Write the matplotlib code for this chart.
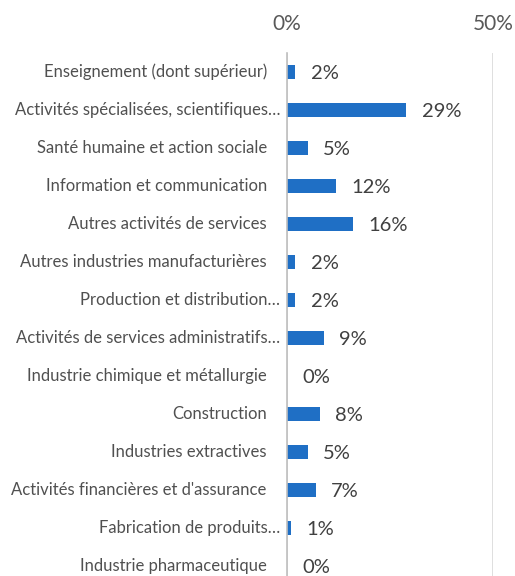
import matplotlib
matplotlib.use("Agg")
import matplotlib.pyplot as plt

categories = [
    "Enseignement (dont supérieur)",
    "Activités spécialisées, scientifiques…",
    "Santé humaine et action sociale",
    "Information et communication",
    "Autres activités de services",
    "Autres industries manufacturières",
    "Production et distribution…",
    "Activités de services administratifs…",
    "Industrie chimique et métallurgie",
    "Construction",
    "Industries extractives",
    "Activités financières et d'assurance",
    "Fabrication de produits…",
    "Industrie pharmaceutique",
]
values = [2, 29, 5, 12, 16, 2, 2, 9, 0, 8, 5, 7, 1, 0]
tick_values = [0, 50]
tick_labels = ["0%", "50%"]

plt.rcParams["font.family"] = ["Lato", "DejaVu Sans"]

fig = plt.figure(figsize=(5.15, 5.76), dpi=100)
W, H = 515, 576
left_px, right_px = 287, 493
top_px, bottom_px = 53, 585
ax = fig.add_axes([left_px / W, 1 - bottom_px / H,
                   (right_px - left_px) / W, (bottom_px - top_px) / H])

n = len(categories)
ypos = list(range(n))
ax.barh(ypos, values, height=0.36, color="#1F6FC5", zorder=3)

ax.set_xlim(0, 50)
ax.set_ylim(n - 0.5, -0.5)

ax.set_xticks(tick_values)
ax.set_xticklabels(tick_labels, fontsize=15, color="#595959")
ax.xaxis.tick_top()
ax.tick_params(axis="x", length=0, pad=14)
ax.grid(axis="x", color="#D9D9D9", linewidth=1.2, zorder=0)

# category labels: truncated names sit a little closer to the axis
ax.set_yticks([])
for y, name in zip(ypos, categories):
    gap = -5 if name.endswith("…") else -14.5
    ax.annotate(name, xy=(0, y), xycoords=("axes fraction", "data"),
                xytext=(gap, 0), textcoords="offset points",
                ha="right", va="center", fontsize=12, color="#505050")

for s in ["top", "right", "bottom"]:
    ax.spines[s].set_visible(False)
ax.spines["left"].set_color("#BFBFBF")
ax.spines["left"].set_linewidth(1.2)
ax.spines["left"].set_zorder(4)

for y, v in zip(ypos, values):
    ax.annotate(f"{v}%", xy=(v, y), xytext=(11, -1), textcoords="offset points",
                ha="left", va="center", fontsize=14.5, color="#404040")

fig.savefig("out.png", dpi=100)
